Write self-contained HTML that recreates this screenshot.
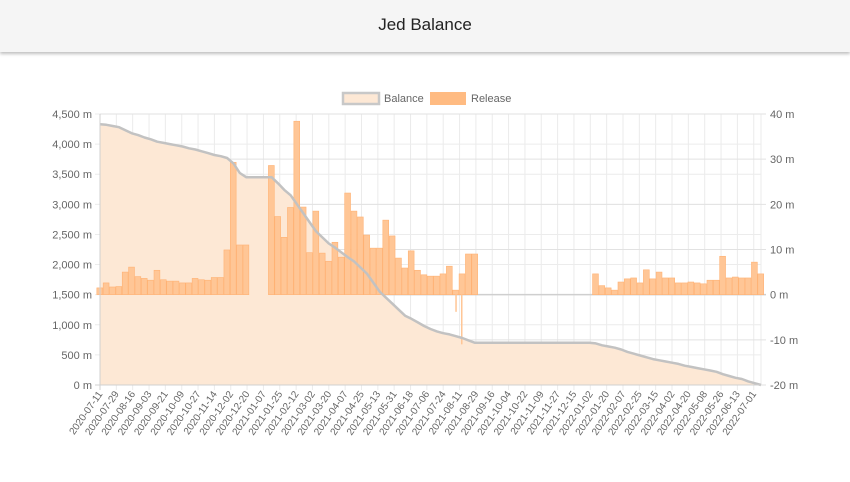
<!DOCTYPE html>
<html><head><meta charset="utf-8"><style>
body{margin:0;width:850px;height:482px;overflow:hidden;background:#fff;font-family:"Liberation Sans",sans-serif;}
#hdr{position:absolute;left:0;top:0;width:850px;height:52px;background:#f5f5f5;box-shadow:0 2px 3px rgba(0,0,0,0.25);}
#hdr h1{margin:0;font-weight:normal;font-size:17px;color:#222;text-align:center;line-height:50px;}
svg{position:absolute;left:0;top:0;}
text{font-family:"Liberation Sans",sans-serif;}
</style></head><body>
<div id="hdr"><h1>Jed Balance</h1></div>
<svg id="c" width="850" height="482"></svg>
<script>
const balance=[4330,4320,4300,4280,4230,4180,4150,4110,4080,4040,4020,4000,3980,3960,3930,3910,3880,3850,3820,3800,3770,3680,3520,3450,3450,3450,3450,3450,3350,3240,3150,3000,2850,2700,2550,2450,2350,2280,2200,2120,2050,1950,1850,1700,1550,1450,1350,1250,1150,1100,1040,980,930,890,860,840,810,780,740,700,700,700,700,700,700,700,700,700,700,700,700,700,700,700,700,700,700,700,690,660,640,620,590,550,520,490,460,430,410,390,370,350,320,300,280,260,240,220,180,150,120,100,60,30,0];
const release=[1.5,2.6,1.7,1.8,5,6.1,4,3.6,3.2,5.4,3.3,3,3,2.6,2.6,3.6,3.3,3.2,3.8,3.8,9.9,29.3,11,11,0,0,0,28.6,17.3,12.7,19.3,38.4,19.4,9.3,18.5,9.2,7.4,11.6,8.3,22.5,18.5,17.2,13.2,10.3,10.3,16.5,13,8.1,5.9,9.7,5.4,4.4,4.1,4.1,4.6,6.3,1,4.6,9,9,0,0,0,0,0,0,0,0,0,0,0,0,0,0,0,0,0,0,4.6,2,1.5,1,2.8,3.5,3.7,2.6,5.5,3.5,5,3.7,3.7,2.6,2.6,2.8,2.6,2.4,3.2,3.2,8.5,3.7,3.9,3.7,3.7,7.2,4.6];
const spikeWeeks=[55.9,56.8];
const spikeValues=[-3.8,-11];
const leftTicks=[0,500,1000,1500,2000,2500,3000,3500,4000,4500];
const rightTicks=[-20,-10,0,10,20,30,40];
const startDate='2020-07-11';
const labelStepDays=18, labelCount=41;

const NS='http://www.w3.org/2000/svg';
const svg=document.getElementById('c');
const X0=100,X1=761,YT=114,YB=385;
const nW=balance.length;
const bw=(X1-X0)/(nW-1);
const xW=i=>X0+i*bw;
const yL=v=>YB-(v/4500)*(YB-YT);
const yR=v=>YB-((v+20)/60)*(YB-YT);
const pxDay=bw/7;
function mk(t,a,p){const e=document.createElementNS(NS,t);for(const k in a)e.setAttribute(k,a[k]);(p||svg).appendChild(e);return e;}
const fmt=n=>n.toLocaleString('en-US');

const grid=mk('g',{});


for(let i=0;i<labelCount;i++){const x=X0+i*labelStepDays*pxDay;mk('line',{x1:x,x2:x,y1:YT,y2:YB+5,stroke:'#ebebeb','stroke-width':1},grid);}
mk('line',{x1:X1,x2:X1,y1:YT,y2:YB,stroke:'#ebebeb'},grid);
leftTicks.forEach(v=>{const y=yL(v);mk('line',{x1:X0-5,x2:X1,y1:y,y2:y,stroke:'#ececec'},grid);});
rightTicks.forEach(v=>{const y=yR(v);mk('line',{x1:X0,x2:X1+5,y1:y,y2:y,stroke:v===0?'#cfcfcf':'#e2e2e2','stroke-width':v===0?1.5:1},grid);});

let d='M'+xW(0)+','+YB;
balance.forEach((v,i)=>{d+=' L'+xW(i).toFixed(1)+','+yL(v).toFixed(1);});
d+=' L'+xW(nW-1)+','+YB+' Z';
const area=mk('path',{d:d,fill:'#fde8d5'});



const bars=mk('g',{});


release.forEach((v,i)=>{if(!v)return;const y0=yR(0),y1=yR(v);
 const r=mk('rect',{x:xW(i)-bw/2,y:Math.min(y0,y1),width:bw*0.92,height:Math.abs(y1-y0),fill:'#ffc696',stroke:'#ffb274','stroke-width':0.6},bars);
 
 });
spikeWeeks.forEach((w,i)=>{const y0=yR(0),y1=yR(spikeValues[i]);
 const r=mk('rect',{x:xW(w),y:y0,width:1.5,height:y1-y0,fill:'#ffc696'},bars);
 
 });

let ld='';balance.forEach((v,i)=>{ld+=(i?' L':'M')+xW(i).toFixed(1)+','+yL(v).toFixed(1);});
const line=mk('path',{d:ld,fill:'none',stroke:'#c2c2c2','stroke-width':2.5,'stroke-linejoin':'round'});



mk('line',{x1:X0,x2:X0,y1:YT,y2:YB+5,stroke:'#d0d0d0'});
mk('line',{x1:X0-5,x2:X1,y1:YB,y2:YB,stroke:'#d0d0d0'});
const la=mk('g',{});


leftTicks.forEach(v=>{const t=mk('text',{x:X0-8,y:yL(v)+4,'text-anchor':'end','font-size':11,fill:'#666'},la);t.textContent=fmt(v)+' m';});
const ra=mk('g',{});


rightTicks.forEach(v=>{const t=mk('text',{x:X1+9,y:yR(v)+4,'font-size':11,fill:'#666'},ra);t.textContent=v+' m';});
const xa=mk('g',{});


const sd=new Date(startDate+'T00:00:00Z');
for(let i=0;i<labelCount;i++){const x=X0+i*labelStepDays*pxDay;
 const dt=new Date(sd.getTime()+i*labelStepDays*86400000);
 const s=dt.toISOString().slice(0,10);
 const t=mk('text',{x:0,y:0,'text-anchor':'end','font-size':10,fill:'#666',transform:`translate(${x+3},${YB+9}) rotate(-55)`},xa);t.textContent=s;}

const lg=mk('g',{});


const l1=mk('g',{},lg);


mk('rect',{x:343,y:93,width:36,height:11,fill:'#fde8d5',stroke:'#c8c8c8','stroke-width':2.5},l1);
let t=mk('text',{x:384,y:102,'font-size':11,fill:'#666'},l1);t.textContent='Balance';
const l2=mk('g',{},lg);


mk('rect',{x:430,y:92,width:36,height:13,fill:'#ffbb82'},l2);
t=mk('text',{x:471,y:102,'font-size':11,fill:'#666'},l2);t.textContent='Release';
</script>
</body></html>
